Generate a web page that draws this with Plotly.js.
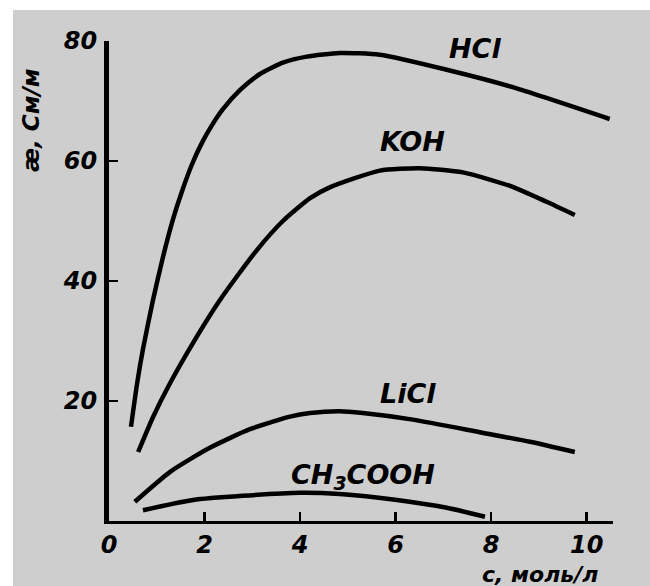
<!DOCTYPE html>
<html>
<head>
<meta charset="utf-8">
<script src="https://cdn.plot.ly/plotly-3.0.1.min.js"></script>
<style>
  html, body { margin: 0; padding: 0; background: #ffffff; width: 650px; height: 586px; overflow: hidden; }
  #chart { position: absolute; left: 13px; top: 10px; width: 637px; height: 576px; }
</style>
</head>
<body>
<div id="chart"></div>
<script>
// Concentration c, mol/L and conductivity values
const hclC   = [0.46, 0.59, 0.71, 0.92, 1.13, 1.34, 1.53, 1.74, 1.95, 2.15, 2.38, 2.74, 3.16, 3.64, 4.14, 4.83, 5.67, 7.07, 8.45, 10.48];
const hclK   = [15.7, 23.0, 28.6, 36.8, 44.0, 50.3, 55.0, 59.5, 63.1, 65.9, 68.6, 71.8, 74.5, 76.4, 77.4, 78.0, 77.7, 75.2, 72.3, 67.0];

const kohC   = [0.61, 0.92, 1.28, 1.76, 2.32, 3.10, 3.64, 4.21, 4.62, 5.67, 6.51, 7.41, 8.45, 9.16, 9.75];
const kohK   = [11.5, 17.3, 23.0, 29.7, 36.8, 45.2, 50.0, 53.8, 55.6, 58.4, 58.8, 58.1, 55.7, 53.2, 51.0];

const liclC  = [0.54, 1.28, 2.11, 2.95, 3.79, 4.21, 4.83, 5.31, 6.36, 7.76, 8.81, 9.75];
const liclK  = [3.2, 8.2, 12.2, 15.3, 17.4, 18.0, 18.3, 18.0, 16.9, 14.8, 13.2, 11.5];

const aceticC = [0.71, 1.76, 2.80, 4.00, 4.83, 6.03, 7.07, 7.87];
const aceticK = [1.8, 3.5, 4.2, 4.7, 4.5, 3.5, 2.2, 0.7];

const seriesNames = ["HCl", "KOH", "LiCl", "CH<sub>3</sub>COOH"];
const labelC = [7.66, 6.36, 6.26, 5.31];
const labelK = [78.8, 63.2, 21.3, 7.5];

const xTicks = [0, 2, 4, 6, 8, 10];
const yTicks = [20, 40, 60, 80];
const xTitle = "с, моль/л";
const yTitle = "æ, См/м";

const FONT = "DejaVu Sans";
const lineStyle = { color: "#000000", width: 4.5, shape: "spline", smoothing: 0.6 };

const data = [
  [hclC, hclK], [kohC, kohK], [liclC, liclK], [aceticC, aceticK]
].map((s, i) => ({
  type: "scatter", mode: "lines", x: s[0], y: s[1], name: seriesNames[i],
  line: lineStyle, hoverinfo: "skip", showlegend: false
}));

const labelFont = { family: FONT, size: 27, color: "#000", weight: "bold", style: "italic" };
const annotations = seriesNames.map((t, i) => ({
  x: labelC[i], y: labelK[i], xref: "x", yref: "y", text: t, showarrow: false,
  font: labelFont, xanchor: "center", yanchor: "middle"
}));
annotations.push({
  x: -0.155, y: 0.835, xref: "paper", yref: "paper", text: yTitle, showarrow: false,
  textangle: -90, font: { family: FONT, size: 23, color: "#000", weight: "bold", style: "italic" },
  xanchor: "center", yanchor: "middle"
});
annotations.push({
  x: 0.975, y: -0.112, xref: "paper", yref: "paper", text: xTitle, showarrow: false,
  font: { family: FONT, size: 22, color: "#000", weight: "bold", style: "italic" },
  xanchor: "right", yanchor: "middle"
});

const tickFont = { family: FONT, size: 24, color: "#000", weight: "bold", style: "italic" };

const layout = {
  width: 637, height: 576,
  paper_bgcolor: "#cecece", plot_bgcolor: "#cecece",
  margin: { l: 96, r: 37, t: 31, b: 65 },
  showlegend: false,
  xaxis: {
    range: [0, 10.55], tickvals: xTicks, ticktext: xTicks.map(String),
    showgrid: false, zeroline: false, showline: true, linecolor: "#000", linewidth: 3,
    ticks: "inside", ticklen: 9, tickwidth: 2.5, tickcolor: "#000",
    tickfont: tickFont, ticklabelstandoff: 0, fixedrange: true
  },
  yaxis: {
    range: [0, 80], tickvals: yTicks, ticktext: yTicks.map(String),
    showgrid: false, zeroline: false, showline: true, linecolor: "#000", linewidth: 5,
    ticks: "inside", ticklen: 9, tickwidth: 2, tickcolor: "#000",
    tickfont: tickFont, ticklabelstandoff: 2, fixedrange: true
  },
  annotations: annotations
};

Plotly.newPlot("chart", data, layout, { displayModeBar: false, staticPlot: true });
</script>
</body>
</html>
